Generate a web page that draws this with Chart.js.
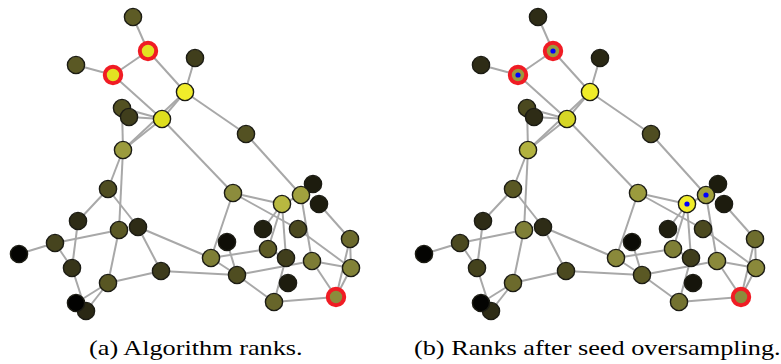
<!DOCTYPE html>
<html><head><meta charset="utf-8">
<script src="https://cdn.jsdelivr.net/npm/chart.js@4/dist/chart.umd.min.js"></script>
<style>
html,body{margin:0;padding:0;background:#fff;width:781px;height:364px;overflow:hidden;position:relative}
#wa{position:absolute;left:0;top:0;width:390px;height:330px}
#wb{position:absolute;left:405px;top:0;width:376px;height:330px}
.cap{position:absolute;top:335px;font-family:"Liberation Serif",serif;font-size:21px;line-height:26px;color:#000;white-space:nowrap;transform:scaleX(1.25);transform-origin:0 0}
#capA{left:89px}
#capB{left:414px}
</style></head><body>
<div id="wa"><canvas id="ca"></canvas></div>
<div id="wb"><canvas id="cb"></canvas></div>
<div class="cap" id="capA">(a) Algorithm ranks.</div>
<div class="cap" id="capB">(b) Ranks after seed oversampling.</div>
<script>
// node layout (graph coordinates)
const nodeX = [133,76,195,148,113,246,122,129,185,162,123,108,78,119,138,55,19,72,161,108,86,76,233,313,301,319,282,263,298,350,227,211,268,286,312,351,237,288,274,336];
const nodeY = [17,65,58,51,75,134,108,117,92,119,150,189,221,230,227,243,254,268,271,283,311,303,193,184,195,204,204,229,229,239,242,258,249,258,261,268,275,283,302,297];
// rank values per node (0 = lowest, 1 = highest)
const rankA = [0.46,0.45,0.33,0.93,0.93,0.42,0.42,0.33,1.0,0.9,0.7,0.4,0.25,0.45,0.25,0.36,0.02,0.29,0.32,0.44,0.23,0.01,0.65,0.16,0.72,0.16,0.8,0.18,0.38,0.52,0.08,0.6,0.46,0.33,0.59,0.61,0.4,0.16,0.5,0.65];
const rankB = [0.25,0.25,0.23,0.7,0.7,0.4,0.38,0.25,1.0,0.88,0.78,0.45,0.25,0.6,0.25,0.38,0.02,0.35,0.38,0.52,0.25,0.02,0.7,0.16,0.72,0.16,1.0,0.18,0.38,0.53,0.06,0.64,0.6,0.33,0.64,0.64,0.45,0.12,0.55,0.65];
// seed nodes (red ring) and oversampled nodes (blue dot)
const seedNodes = [3,4,39];
const oversampledB = [3,4,24,26];
// edges as [from, to]
const edgeFrom = [0,3,1,3,2,4,8,8,8,6,7,6,9,10,10,9,5,11,11,12,15,15,15,17,13,19,19,19,14,14,18,22,22,22,24,24,26,26,26,25,28,29,29,35,34,34,31,31,30,36,36,38,38,32];
const edgeTo   = [3,4,4,8,8,9,9,10,5,9,9,10,10,11,13,22,24,12,14,17,13,16,17,20,19,21,20,18,18,31,36,26,31,28,26,34,32,27,33,29,35,35,39,39,35,39,32,36,36,34,38,39,33,33];

const stops = [[0,[0,0,0]],[0.25,[46,44,22]],[0.45,[90,88,36]],[0.65,[140,140,60]],[0.8,[184,184,64]],[0.9,[222,222,30]],[1,[240,236,42]]];
function rankColor(v){
  for(let i=1;i<stops.length;i++){
    if(v<=stops[i][0]){
      const a=stops[i-1],b=stops[i],t=(v-a[0])/(b[0]-a[0]);
      const c=a[1].map((x,k)=>Math.round(x+(b[1][k]-x)*t));
      return 'rgb('+c.join(',')+')';
    }
  }
  return 'rgb(240,236,42)';
}

function build(canvasId, ranks, dots, w){
  const datasets=[];
  const pts = nodeX.map((x,i)=>({x:x,y:nodeY[i]}));
  const isSeed = i=>seedNodes.indexOf(i)>=0;
  datasets.push({
    data: pts, order:0, showLine:false,
    pointRadius: pts.map((p,i)=>isSeed(i)?8.2:8.6),
    pointBorderWidth: pts.map((p,i)=>isSeed(i)?4:1.4),
    pointBorderColor: pts.map((p,i)=>isSeed(i)?'#f01c24':'#1c1c14'),
    pointBackgroundColor: ranks.map(rankColor)
  });
  if(dots.length){
    datasets.push({
      data: dots.map(i=>({x:nodeX[i],y:nodeY[i]})), order:-1, showLine:false,
      pointRadius:2.6, pointBorderWidth:0, pointBackgroundColor:'#0000ff', pointBorderColor:'#0000ff'
    });
  }
  for(let e=0;e<edgeFrom.length;e++){
    const a=edgeFrom[e], b=edgeTo[e];
    datasets.push({
      data:[{x:nodeX[a],y:nodeY[a]},{x:nodeX[b],y:nodeY[b]}],
      order:1, showLine:true, borderColor:'#a8a8a8', borderWidth:2, pointRadius:0, fill:false
    });
  }
  new Chart(document.getElementById(canvasId),{
    type:'scatter',
    data:{datasets},
    options:{
      responsive:true, maintainAspectRatio:false, animation:false, events:[],
      layout:{padding:0, autoPadding:false},
      plugins:{legend:{display:false},tooltip:{enabled:false}},
      scales:{
        x:{type:'linear',min:0,max:w,display:false},
        y:{type:'linear',min:0,max:330,reverse:true,display:false}
      }
    }
  });
}
build('ca', rankA, [], 390);
build('cb', rankB, oversampledB, 376);
</script>
</body></html>
